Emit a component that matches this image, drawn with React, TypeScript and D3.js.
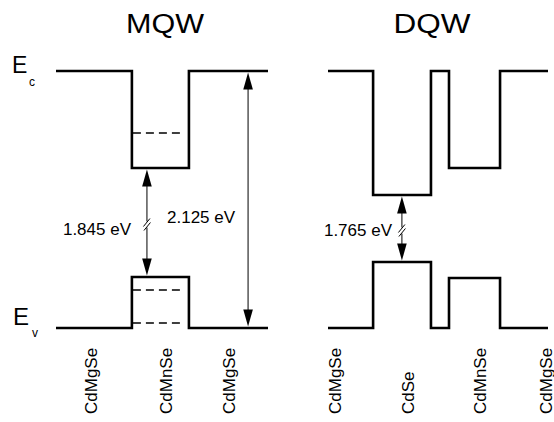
import React from "react";
import * as d3 from "d3";

// ---- Data ----
// Relative energy: 0 = Ev of barrier (CdMgSe), 1 = Ec of barrier (break in scale between)
const mqwBoundaries = [0, 35.8, 62.7, 100]; // layer boundaries (relative position)
const mqwCbLevels = [1, 0.6226, 1]; // conduction band per layer
const mqwVbLevels = [0, 0.1984, 0]; // valence band per layer
const mqwCbDashed = [0.7588];
const mqwVbDashed = [0.148, 0.0195];
const mqwLabels = ["CdMgSe", "CdMnSe", "CdMgSe"];
const mqwLabelPos = [16.5, 51.9, 81.6];
const mqwGapArrowPos = 42.9;
const mqwGapText = "1.845 eV";
const mqwBarrierArrowPos = 90.6;
const mqwBarrierText = "2.125 eV";

const dqwBoundaries = [0, 20.5, 46.8, 55, 78.2, 100];
const dqwCbLevels = [1, 0.5175, 1, 0.6226, 1];
const dqwVbLevels = [0, 0.2568, 0, 0.1946, 0];
const dqwLabels = ["CdMgSe", "CdSe", "CdMnSe", "CdMgSe"];
const dqwLabelPos = [3.2, 36.4, 69.1, 99.1];
const dqwGapArrowPos = 33.6;
const dqwGapText = "1.765 eV";

const titles = ["MQW", "DQW"];

const FONT = "'Liberation Sans', Arial, Helvetica, sans-serif";

const y = d3.scaleLinear().domain([0, 1]).range([328, 71]);
const xMqw = d3.scaleLinear().domain([0, 100]).range([56, 268]);
const xDqw = d3.scaleLinear().domain([0, 100]).range([328, 548]);

function profile(bounds: number[], levels: number[], x: d3.ScaleLinear<number, number>) {
  const pts: [number, number][] = [];
  levels.forEach((lv, i) => {
    pts.push([x(bounds[i]), y(lv)]);
    pts.push([x(bounds[i + 1]), y(lv)]);
  });
  return d3.line()(pts) || "";
}

function ArrowHead({ x, yTip, dir }: { x: number; yTip: number; dir: 1 | -1 }) {
  const len = 17;
  const hw = 4.8;
  const base = yTip - dir * len;
  return <path d={`M${x},${yTip} L${x - hw},${base} L${x + hw},${base} Z`} fill="#000" />;
}

function DoubleArrow({ x, y1, y2, broken }: { x: number; y1: number; y2: number; broken: boolean }) {
  const mid = (y1 + y2) / 2 + 2;
  return (
    <g>
      {broken ? (
        <>
          <line x1={x} x2={x} y1={y1 + 10} y2={mid - 3} stroke="#000" strokeWidth={1} />
          <line x1={x} x2={x} y1={mid + 3} y2={y2 - 10} stroke="#000" strokeWidth={1} />
          <line x1={x - 3.5} y1={mid + 2} x2={x + 3} y2={mid - 6} stroke="#000" strokeWidth={1} />
          <line x1={x - 3} y1={mid + 6} x2={x + 3.5} y2={mid - 2} stroke="#000" strokeWidth={1} />
        </>
      ) : (
        <line x1={x} x2={x} y1={y1 + 10} y2={y2 - 10} stroke="#000" strokeWidth={1} />
      )}
      <ArrowHead x={x} yTip={y1} dir={-1} />
      <ArrowHead x={x} yTip={y2} dir={1} />
    </g>
  );
}

export default function App() {
  const thick = 2.6;
  const mqwWellL = xMqw(mqwBoundaries[1]);
  const mqwWellR = xMqw(mqwBoundaries[2]);
  const mqwGapX = xMqw(mqwGapArrowPos);
  const dqwGapX = xDqw(dqwGapArrowPos);
  return (
    <svg
      width={554}
      height={422}
      style={{ position: "absolute", left: 0, top: 0, background: "#fff" }}
      fontFamily={FONT}
    >
      <rect width={554} height={422} fill="#fff" />
      <text x={165} y={33} fontSize={27} textAnchor="middle" textLength={78} lengthAdjust="spacingAndGlyphs">
        {titles[0]}
      </text>
      <text x={432} y={33} fontSize={27} textAnchor="middle" textLength={77} lengthAdjust="spacingAndGlyphs">
        {titles[1]}
      </text>

      <text x={12} y={73} fontSize={23}>E</text>
      <text x={29} y={86} fontSize={12}>c</text>
      <text x={13} y={325} fontSize={24}>E</text>
      <text x={32} y={337} fontSize={12}>v</text>

      <path d={profile(mqwBoundaries, mqwCbLevels, xMqw)} fill="none" stroke="#000" strokeWidth={thick} strokeLinejoin="miter" />
      <path d={profile(mqwBoundaries, mqwVbLevels, xMqw)} fill="none" stroke="#000" strokeWidth={thick} strokeLinejoin="miter" />
      {[...mqwCbDashed, ...mqwVbDashed].map((lv, i) => (
        <line key={i} x1={mqwWellL + 1} x2={mqwWellR - 5} y1={y(lv)} y2={y(lv)} stroke="#000" strokeWidth={1.6} strokeDasharray="8,5" />
      ))}

      <path d={profile(dqwBoundaries, dqwCbLevels, xDqw)} fill="none" stroke="#000" strokeWidth={thick} strokeLinejoin="miter" />
      <path d={profile(dqwBoundaries, dqwVbLevels, xDqw)} fill="none" stroke="#000" strokeWidth={thick} strokeLinejoin="miter" />

      <DoubleArrow x={mqwGapX} y1={y(mqwCbLevels[1]) + 1.5} y2={y(mqwVbLevels[1]) - 1.5} broken />
      <DoubleArrow x={xMqw(mqwBarrierArrowPos)} y1={y(1) + 1.5} y2={y(0) - 1.5} broken={false} />
      <DoubleArrow x={dqwGapX} y1={y(dqwCbLevels[1]) + 1.5} y2={y(dqwVbLevels[1]) - 1.5} broken />

      <text x={131} y={235} fontSize={17} textAnchor="end">{mqwGapText}</text>
      <text x={167} y={223} fontSize={17}>{mqwBarrierText}</text>
      <text x={392} y={236} fontSize={17} textAnchor="end">{dqwGapText}</text>

      {mqwLabels.map((l, i) => (
        <text key={"m" + i} transform={`translate(${xMqw(mqwLabelPos[i]) + 6},414) rotate(-90)`} fontSize={17}>
          {l}
        </text>
      ))}
      {dqwLabels.map((l, i) => (
        <text key={"d" + i} transform={`translate(${xDqw(dqwLabelPos[i]) + 6},414) rotate(-90)`} fontSize={17}>
          {l}
        </text>
      ))}
    </svg>
  );
}
